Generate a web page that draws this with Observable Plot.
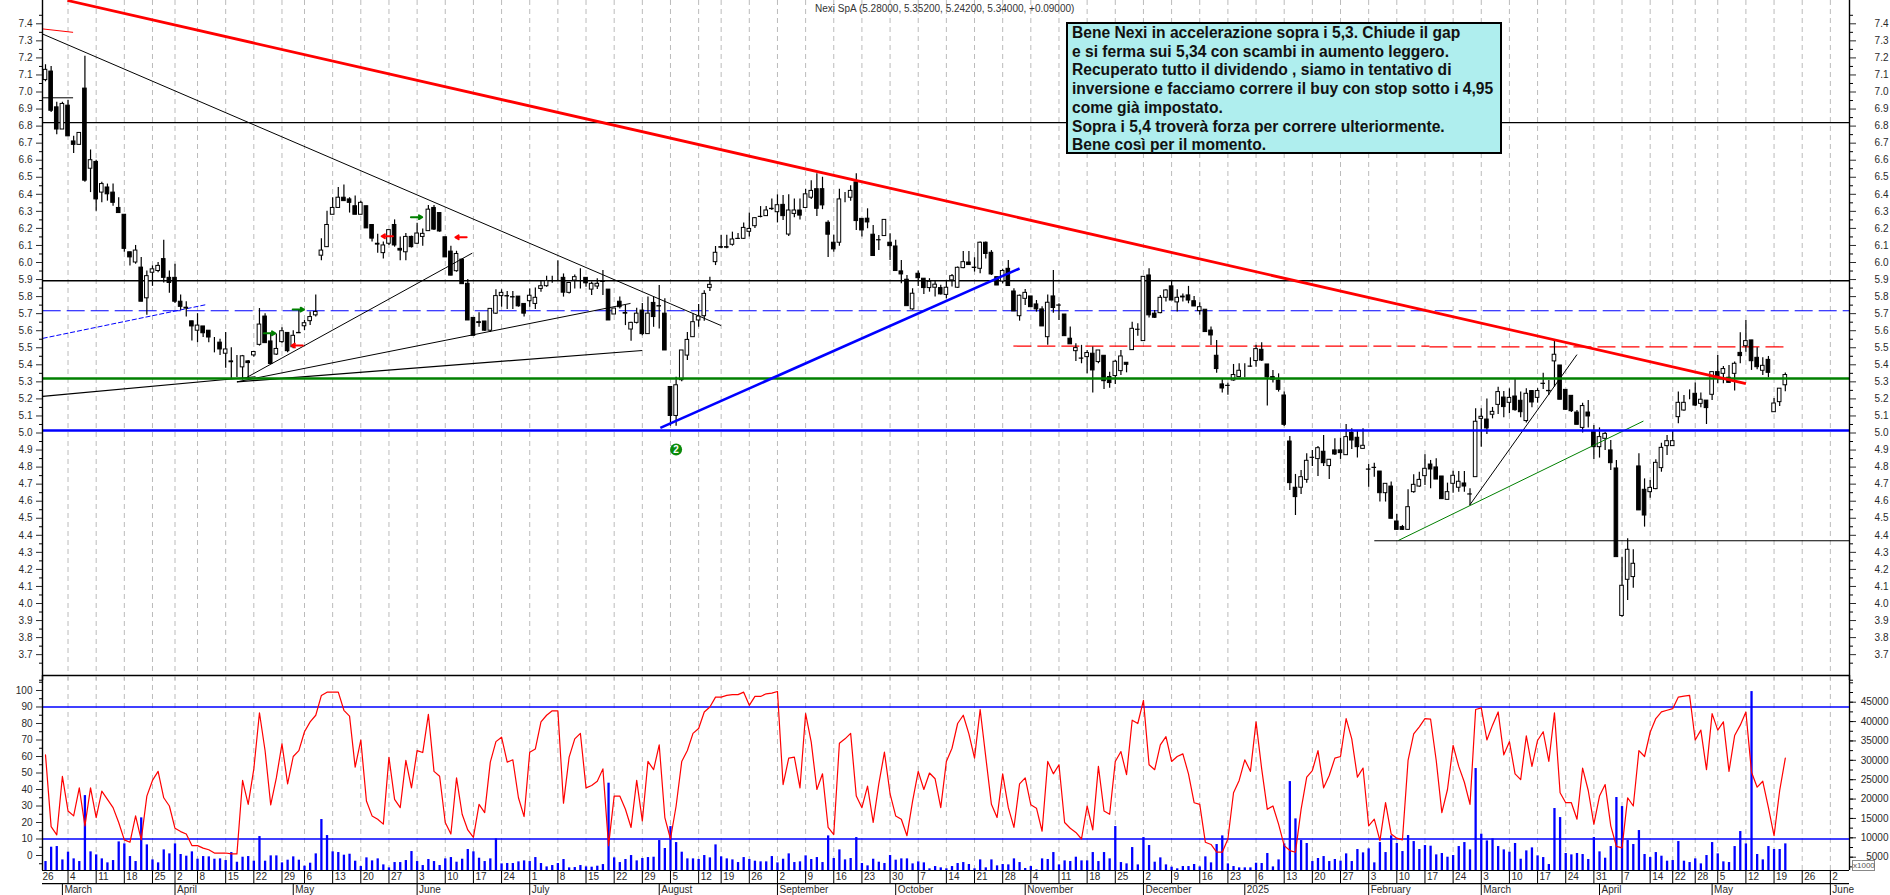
<!DOCTYPE html>
<html>
<head>
<meta charset="utf-8">
<script src="https://cdn.jsdelivr.net/npm/d3@7"></script>
<script src="https://cdn.jsdelivr.net/npm/@observablehq/plot@0.6"></script>
<style>
  html, body { margin: 0; padding: 0; background: white; overflow: hidden; }
  #chart { position: relative; width: 1890px; height: 895px; overflow: hidden; }
  #chart svg { position: absolute; left: 0; }
  #title { position: absolute; left: 815px; top: 3px; font: 10px "Liberation Sans"; color: #333; white-space: pre; }
  #note { position: absolute; left: 1066px; top: 22px; width: 436px; height: 132px; box-sizing: border-box;
    border: 2px solid black; background: #afeeee; padding: 0 0 0 4px;
    font: bold 15.6px/18.7px "Liberation Sans"; color: #111; white-space: pre; }
  #x1000 { position: absolute; left: 1852px; top: 860px; width: 21px; height: 9px; border: 1px solid #888;
    font: 8px/9px "Liberation Sans"; color: #555; text-align: center; background: white; }
</style>
</head>
<body>
<div id="chart"></div>
<script>
const opens = [
  7.07,7.12,6.91,6.78,6.92,6.71,6.69,7.02,6.55,6.59,
  6.41,6.44,6.41,6.32,6.28,6.06,6.0,5.97,5.79,5.94,
  5.95,6.02,5.91,5.91,5.77,5.735,5.655,5.6,5.625,5.6,
  5.51,5.53,5.465,5.42,5.395,5.385,5.42,5.455,5.517,5.683,
  5.537,5.46,5.533,5.587,5.503,5.587,5.626,5.656,5.69,6.04,
  6.09,6.28,6.32,6.38,6.37,6.33,6.28,6.33,6.22,6.11,
  6.055,6.11,6.22,6.08,6.06,6.15,6.11,6.15,6.184,6.32,
  6.29,6.148,6.064,5.949,6.017,5.875,5.675,5.65,5.654,5.6,
  5.7,5.803,5.803,5.797,5.8,5.757,5.773,5.757,5.845,5.861,
  5.895,5.9,5.91,5.822,5.894,5.93,5.91,5.841,5.859,5.888,
  5.841,5.695,5.77,5.704,5.607,5.646,5.718,5.58,5.763,5.744,
  5.7,5.27,5.1,5.31,5.454,5.562,5.66,5.685,5.851,6.002,
  6.09,6.09,6.104,6.139,6.139,6.18,6.213,6.268,6.272,6.315,
  6.295,6.338,6.164,6.285,6.305,6.32,6.38,6.43,6.43,6.233,
  6.116,6.116,6.36,6.38,6.47,6.256,6.257,6.163,6.131,6.155,
  6.116,6.094,5.948,5.899,5.725,5.934,5.905,5.85,5.852,5.85,
  5.81,5.895,5.852,5.967,6.0,5.97,5.963,6.116,6.057,5.914,
  5.889,5.963,5.83,5.685,5.787,5.801,5.754,5.725,5.562,5.801,
  5.748,5.695,5.553,5.48,5.437,5.445,5.465,5.416,5.453,5.328,
  5.334,5.363,5.412,5.486,5.606,5.539,5.924,5.7,5.703,5.793,
  5.86,5.766,5.8,5.807,5.773,5.715,5.723,5.601,5.453,5.285,
  5.277,5.308,5.328,5.394,5.39,5.422,5.488,5.402,5.328,5.308,
  5.22,4.95,4.679,4.679,4.725,4.855,4.847,4.89,4.806,4.898,
  4.898,4.87,5.0,4.972,4.907,4.786,4.796,4.774,4.647,4.686,
  4.481,4.448,4.432,4.653,4.686,4.747,4.815,4.798,4.745,4.608,
  4.702,4.679,4.704,4.64,4.741,5.083,5.079,5.107,5.165,5.208,
  5.177,5.214,5.189,5.07,5.246,5.206,5.289,5.247,5.42,5.396,
  5.253,5.218,5.12,5.03,5.12,5.005,4.917,4.966,4.898,4.792,
  3.927,4.139,4.155,4.804,4.667,4.653,4.671,4.794,4.923,4.923,
  5.093,5.132,5.21,5.23,5.171,5.19,5.224,5.357,5.347,5.324,
  5.347,5.47,5.509,5.543,5.441,5.365,5.429,5.122,5.181,5.28
]
const highs = [
  7.16,7.15,6.94,6.94,6.95,6.74,6.76,7.21,6.66,6.6,
  6.47,6.46,6.46,6.38,6.28,6.06,6.1,6.03,5.95,5.98,
  6.0,6.13,5.95,5.99,5.81,5.77,5.655,5.7,5.625,5.6,
  5.56,5.55,5.59,5.5,5.455,5.455,5.425,5.48,5.73,5.7,
  5.587,5.58,5.617,5.587,5.6,5.72,5.66,5.71,5.81,6.14,
  6.3,6.38,6.44,6.455,6.38,6.39,6.36,6.33,6.22,6.165,
  6.12,6.19,6.25,6.15,6.17,6.155,6.23,6.197,6.334,6.334,
  6.29,6.148,6.096,6.066,6.017,5.9,5.675,5.705,5.654,5.728,
  5.84,5.84,5.83,5.83,5.8,5.757,5.845,5.85,5.894,5.92,
  5.92,6.01,5.933,5.88,5.927,5.963,5.91,5.885,5.904,5.953,
  5.841,5.73,5.797,5.748,5.65,5.732,5.76,5.797,5.797,5.865,
  5.787,5.27,5.327,5.484,5.59,5.7,5.753,5.835,5.914,6.094,
  6.158,6.16,6.178,6.17,6.232,6.29,6.262,6.328,6.328,6.373,
  6.397,6.393,6.397,6.373,6.373,6.43,6.48,6.52,6.5,6.245,
  6.16,6.43,6.41,6.45,6.52,6.256,6.315,6.217,6.158,6.25,
  6.168,6.13,6.012,5.924,5.846,5.95,5.905,5.905,5.895,5.866,
  5.895,5.93,5.973,6.065,6.065,6.028,6.12,6.12,6.07,5.914,
  5.96,6.012,5.846,5.809,5.842,5.801,5.777,5.74,5.81,5.953,
  5.758,5.695,5.621,5.524,5.514,5.484,5.504,5.484,5.453,5.357,
  5.426,5.484,5.412,5.65,5.641,5.918,5.963,5.719,5.807,5.84,
  5.889,5.84,5.816,5.86,5.8,5.764,5.723,5.621,5.543,5.318,
  5.292,5.402,5.406,5.406,5.441,5.514,5.529,5.402,5.367,5.347,
  5.24,4.98,4.757,4.78,4.878,4.898,4.921,4.986,4.843,4.966,
  4.97,5.05,5.025,5.015,5.025,4.815,4.823,4.774,4.702,4.712,
  4.522,4.458,4.667,4.755,4.77,4.872,4.839,4.849,4.745,4.706,
  4.776,4.774,4.774,4.673,5.142,5.142,5.2,5.15,5.269,5.244,
  5.259,5.318,5.24,5.26,5.25,5.26,5.351,5.308,5.543,5.396,
  5.253,5.218,5.132,5.175,5.19,5.044,5.03,5.005,4.956,4.839,
  4.272,4.38,4.315,4.878,4.731,4.722,4.843,4.94,4.985,5.015,
  5.24,5.22,5.253,5.294,5.234,5.19,5.357,5.455,5.39,5.396,
  5.416,5.588,5.66,5.543,5.5,5.441,5.449,5.203,5.26,5.352
]
const lows = [
  7.06,6.88,6.75,6.78,6.74,6.64,6.69,6.47,6.41,6.3,
  6.35,6.36,6.33,6.29,6.06,5.98,5.99,5.77,5.69,5.86,
  5.94,5.88,5.82,5.76,5.72,5.68,5.54,5.53,5.56,5.53,
  5.47,5.455,5.38,5.32,5.325,5.31,5.32,5.445,5.51,5.527,
  5.405,5.455,5.527,5.47,5.494,5.585,5.6,5.63,5.68,6.01,
  6.09,6.28,6.32,6.36,6.29,6.28,6.28,6.2,6.12,6.055,
  6.02,6.10,6.09,6.01,6.01,6.085,6.105,6.095,6.184,6.187,
  6.178,6.03,5.923,5.943,5.873,5.66,5.57,5.62,5.597,5.59,
  5.695,5.738,5.724,5.724,5.738,5.68,5.738,5.724,5.826,5.855,
  5.878,5.894,5.797,5.816,5.845,5.845,5.855,5.806,5.841,5.806,
  5.66,5.695,5.728,5.63,5.538,5.64,5.57,5.58,5.62,5.61,
  5.484,5.04,5.04,5.30,5.425,5.562,5.62,5.656,5.83,5.982,
  6.08,6.08,6.096,6.135,6.135,6.15,6.2,6.262,6.27,6.305,
  6.232,6.246,6.152,6.262,6.25,6.32,6.37,6.27,6.31,6.03,
  6.06,6.096,6.35,6.36,6.188,6.149,6.198,6.038,6.07,6.155,
  6.012,5.95,5.875,5.744,5.72,5.86,5.813,5.826,5.797,5.81,
  5.787,5.856,5.848,5.963,5.985,5.944,5.934,6.02,5.924,5.865,
  5.875,5.86,5.713,5.656,5.748,5.738,5.709,5.625,5.514,5.703,
  5.66,5.568,5.52,5.42,5.406,5.347,5.234,5.406,5.255,5.263,
  5.285,5.338,5.353,5.484,5.568,5.539,5.674,5.672,5.699,5.768,
  5.777,5.709,5.768,5.758,5.742,5.69,5.592,5.513,5.351,5.234,
  5.222,5.304,5.324,5.324,5.386,5.386,5.42,5.158,5.294,5.24,
  5.038,4.663,4.516,4.64,4.706,4.804,4.745,4.804,4.727,4.868,
  4.845,4.87,4.903,4.853,4.907,4.682,4.741,4.595,4.595,4.497,
  4.428,4.428,4.428,4.647,4.682,4.692,4.673,4.727,4.612,4.608,
  4.647,4.653,4.653,4.575,4.741,4.917,4.991,5.083,5.109,5.089,
  5.113,5.128,5.089,5.058,5.148,5.175,5.255,5.22,5.269,5.195,
  5.132,5.12,5.048,5.0,5.03,4.845,4.853,4.898,4.78,4.272,
  3.92,4.018,4.09,4.546,4.448,4.618,4.667,4.77,4.868,4.923,
  5.054,5.128,5.195,5.156,5.148,5.05,5.19,5.289,5.289,5.294,
  5.246,5.406,5.474,5.367,5.371,5.337,5.324,5.122,5.156,5.242
]
const closes = [
  7.13,6.89,6.78,6.93,6.74,6.69,6.76,6.48,6.6,6.37,
  6.46,6.4,6.35,6.29,6.08,6.03,6.07,5.77,5.92,5.96,
  5.98,5.91,5.88,5.77,5.74,5.73,5.625,5.63,5.585,5.56,
  5.51,5.49,5.49,5.415,5.395,5.45,5.41,5.475,5.636,5.527,
  5.405,5.493,5.597,5.48,5.57,5.585,5.644,5.68,5.71,6.07,
  6.22,6.32,6.38,6.36,6.35,6.28,6.35,6.2,6.14,6.105,
  6.10,6.19,6.10,6.07,6.15,6.09,6.17,6.168,6.31,6.193,
  6.182,6.03,5.923,6.05,5.873,5.66,5.57,5.645,5.6,5.728,
  5.803,5.822,5.801,5.795,5.743,5.7,5.805,5.793,5.861,5.89,
  5.895,5.9,5.823,5.88,5.914,5.93,5.878,5.875,5.875,5.886,
  5.66,5.73,5.738,5.7,5.646,5.7,5.58,5.7,5.68,5.742,
  5.484,5.1,5.28,5.484,5.546,5.65,5.683,5.816,5.869,6.057,
  6.087,6.087,6.135,6.138,6.203,6.197,6.26,6.267,6.305,6.313,
  6.336,6.272,6.305,6.305,6.275,6.4,6.42,6.315,6.335,6.163,
  6.077,6.37,6.36,6.42,6.243,6.188,6.235,6.038,6.13,6.25,
  6.096,5.95,5.93,5.744,5.817,5.908,5.85,5.887,5.87,5.813,
  5.852,5.92,5.969,6.002,5.985,5.968,6.116,6.05,5.93,5.865,
  5.95,5.862,5.713,5.805,5.822,5.738,5.725,5.625,5.764,5.733,
  5.747,5.568,5.52,5.498,5.436,5.469,5.367,5.484,5.304,5.293,
  5.418,5.449,5.4,5.611,5.605,5.916,5.69,5.676,5.793,5.836,
  5.777,5.793,5.795,5.777,5.742,5.738,5.592,5.572,5.375,5.261,
  5.276,5.34,5.365,5.394,5.389,5.492,5.425,5.326,5.312,5.253,
  5.048,4.706,4.624,4.741,4.837,4.854,4.911,4.823,4.843,4.874,
  4.882,4.976,4.956,4.917,4.925,4.785,4.795,4.647,4.702,4.497,
  4.432,4.432,4.565,4.696,4.725,4.79,4.786,4.727,4.612,4.653,
  4.749,4.714,4.686,4.639,5.066,5.095,5.027,5.124,5.24,5.152,
  5.206,5.134,5.122,5.23,5.179,5.246,5.288,5.245,5.459,5.195,
  5.136,5.128,5.048,5.158,5.097,4.917,4.976,4.995,4.823,4.272,
  4.104,4.315,4.233,4.546,4.516,4.678,4.825,4.913,4.952,4.952,
  5.177,5.177,5.21,5.161,5.195,5.146,5.357,5.328,5.375,5.294,
  5.406,5.451,5.539,5.421,5.386,5.394,5.353,5.173,5.26,5.34
]
const oscillator = [
  61,17.5,12.5,48,27,24,41,18,41,23,
  39,34,29,20,9.5,8,24,9.5,36,45.5,
  51,35,30,16.5,14.5,13,6,6,4.5,3.5,
  1.5,1.5,1.5,1,1,45.5,31,52.5,86.5,63.5,
  30.7,47,67.7,43.4,60,63.6,75,81,85,97,
  99,99,99,88,84.5,53.5,70,33,24,22,
  19,59.5,34,29,57.6,41,63.6,62.4,85.5,51,
  48,20,13,47,25,15.5,11,31,26,56.6,
  69,71.7,56.6,58,35,23.6,62.6,64.6,81,85,
  87.7,87.7,31.7,59.6,70.7,74,41,42.4,45,52.5,
  6,36,36,28,17,45.5,21,57,52,67,
  23,10,30,57,63.6,74,77,87,90,96,
  96,97,97.5,97.5,99,91,96.4,96.4,98,98.4,
  99.4,43,59,59.6,41,86,68.7,40,49.5,17,
  12.7,68,70.7,74,36,29,42,20,43.4,62.6,
  37.4,24,22,12,33,51,40,50,46.5,29,
  57,65,80,85,73.7,59,88.5,59.6,31,23,
  49.5,29,17,43.4,47,30.7,28.7,14.7,57,49.5,
  55,20,16.5,14,10,30,15.5,54,27,25,
  57,63,49,82,80,94,55,52,67,72,
  57,60,61.6,49.5,32,31,8,6.7,2,2,
  10,38,45.5,58,51,81,52.5,28,30,19,
  6,3,2,28,47.5,51.5,63.6,41,48.5,59,
  60,83,70.7,47.5,53,18,22,9,32,13,
  10.5,9.5,57.6,73.7,78,83,82.6,57.6,26,40,
  66.7,54,44.4,31,88.5,89.5,70,79,87,61,
  69,49.5,46,72.5,54,69.7,75,57,86.5,38,
  32,32,22,53,39.4,19,36,43,18,5.5,
  4.6,35,30,63.6,60,74.7,83,87,88,89,
  96,96.6,97,70,76,52,86,76,81,51,
  72.7,79,87,50.5,41.4,45,29,12,39.4,59
]
const volumes = [
  3880,7580,7750,4300,6300,4570,3880,20900,6380,5600,
  4570,3540,4140,8950,8440,5170,3880,15150,8180,4300,
  3540,6890,5860,8440,5690,5260,6380,4480,5170,5090,
  4480,4570,4140,6200,3700,5000,5170,3970,10330,3970,
  5340,5340,3540,4230,5090,4230,2680,3450,5860,14720,
  10590,6380,6200,5520,5770,3970,2590,4830,4050,4570,
  3020,2250,3620,3620,4140,6460,3880,2850,4400,3880,
  2850,4570,4910,3710,4480,6980,6380,4740,3880,4570,
  9730,3280,3370,3370,3800,4050,3880,4910,3370,2500,
  2850,3370,4400,2250,2330,2850,2500,2420,2680,3100,
  24100,4830,3620,4400,5430,4050,4660,4910,5000,9300,
  7240,12900,8780,6290,4570,4570,4400,5430,4830,8180,
  5090,4570,4310,3620,4910,4400,3970,3800,3800,5170,
  3540,4480,5860,3620,3800,5340,4400,4910,3620,10500,
  4660,6890,4310,4660,10070,3370,2760,4480,3710,3370,
  5430,4230,4570,4570,3280,3800,3540,2000,2590,2250,
  2000,2590,3370,3620,3110,2000,4310,2250,4310,2760,
  3110,3020,4570,3620,2080,2590,1730,4570,4400,6200,
  3020,4050,3880,5000,4050,4050,6200,3880,6200,4570,
  12910,3620,3280,7490,3020,10070,8010,3710,4830,3020,
  2420,2000,2590,2590,3110,2500,5090,3540,8270,10500,
  3280,2590,2250,2250,2250,3450,3370,5950,2500,4310,
  8440,24520,14890,9300,8530,3880,4660,5170,3880,4400,
  3970,5860,3880,6980,6120,7150,3540,8780,6200,10500,
  8530,6460,10590,9040,6980,8010,7840,5600,5950,5000,
  5430,7750,8780,6890,27880,10930,9210,9730,7750,6890,
  6290,8530,4480,6630,7410,5340,4910,3110,17560,15230,
  5950,5600,5950,5690,4400,10070,6380,4740,7750,20400,
  18070,9300,8270,11880,5690,4910,6200,5260,3970,4140,
  9040,3970,3620,4570,3280,5430,8780,5860,3800,3620,
  7750,11620,8440,47740,5690,4310,7750,6980,6980,8440
]

// bar numbers of the first session of each week / month
const weekTicks = [4,9,14,19,23,27,32,37,42,46,51,56,61,66,71,76,81,86,91,96,101,106,111,116,120,125,130,135,140,145,150,155,160,165,170,175,180,185,190,195,200,205,210,215,220,225,230,235,240,245,250,255,260,265,270,275,280,285,289,293,297,302,307,312,317]
const weekLabels = [4,11,18,25,2,8,15,22,29,6,13,20,27,3,10,17,24,1,8,15,22,29,5,12,19,26,2,9,16,23,30,7,14,21,28,4,11,18,25,2,9,16,23,6,13,20,27,3,10,17,24,3,10,17,24,31,7,14,22,28,5,12,19,26,2]
const monthTicks = [3,23,44,66,86,109,130,151,174,195,213,235,255,276,296,317]
const monthLabels = ["March","April","May","June","July","August","September","October","November","December","2025","February","March","April","May","June"]

const hLines = [
  {y: 6.82, stroke: "black", width: 1.3},
  {y: 5.893, stroke: "black", width: 1.3}
]
const thinLines = [
  {x1: -0.5, y1: 7.34, x2: 120, y2: 5.63, stroke: "black", width: 1},
  {x1: -0.5, y1: 6.966, x2: 4.9, y2: 6.966, stroke: "black", width: 1},
  {x1: -0.5, y1: 7.37, x2: 4.9, y2: 7.35, stroke: "red", width: 1},
  {x1: -0.5, y1: 5.215, x2: 37.3, y2: 5.33, stroke: "black", width: 1.2},
  {x1: 35.8, y1: 5.327, x2: 75.8, y2: 6.055, stroke: "black", width: 1},
  {x1: 34, y1: 5.3, x2: 103.9, y2: 5.76, stroke: "black", width: 1},
  {x1: 34, y1: 5.3, x2: 106, y2: 5.484, stroke: "black", width: 1.2},
  {x1: 252.9, y1: 4.575, x2: 272, y2: 5.46, stroke: "black", width: 1},
  {x1: 240.3, y1: 4.37, x2: 283.8, y2: 5.07, stroke: "green", width: 1},
  {x1: 236, y1: 4.368, x2: 320.4, y2: 4.368, stroke: "black", width: 1}
]
const longDashLines = [
  {x1: -0.5, y1: 5.717, x2: 320.4, y2: 5.717, stroke: "#0000ff", width: 1.2},
  {x1: 171.9, y1: 5.51, x2: 245.8, y2: 5.51, stroke: "red", width: 1.2},
  {x1: 245.8, y1: 5.505, x2: 308.8, y2: 5.505, stroke: "red", width: 1.2}
]
const shortDashLines = [
  {x1: -0.5, y1: 5.555, x2: 28.7, y2: 5.754, stroke: "#0000ff", width: 1}
]
const thickLines = [
  {x1: -0.5, y1: 5.32, x2: 320.4, y2: 5.32, stroke: "green", width: 2.4},
  {x1: -0.5, y1: 5.015, x2: 320.4, y2: 5.015, stroke: "#0000ff", width: 2.4},
  {x1: 109.2, y1: 5.03, x2: 173, y2: 5.965, stroke: "#0000ff", width: 2.6},
  {x1: 3.9, y1: 7.5367, x2: 302, y2: 5.29, stroke: "red", width: 2.8}
]
const greenArrows = [{i: 65.9, v: 6.266}, {i: 39.8, v: 5.585}, {i: 44.9, v: 5.724}]
const redArrows = [{i: 73.8, v: 6.148}, {i: 44.7, v: 5.513}, {i: 60.7, v: 6.154}]
const badge = [{i: 112, v: 4.903, label: "2"}]

const bars = opens.map((o, i) => ({i, o, h: highs[i], l: lows[i], c: closes[i]}))
const oscPoints = oscillator.map((v, i) => ({i, v}))
const volBars = volumes.map((v, i) => ({i, v}))

const xDomain = [-0.533, 320.4]
const chartStyle = {fontFamily: "Liberation Sans", fontSize: "10px", background: "transparent", overflow: "visible"}
const textColor = "#2a2a2a"
const gridColor = "#bbbbbb"
const links = (data, extra = {}) => Plot.link(data, {
  x1: "x1", y1: "y1", x2: "x2", y2: "y2",
  stroke: "stroke", strokeWidth: "width", ...extra
})
const frameX = {domain: xDomain, axis: null}

// price panel
let pricePlot = Plot.plot({
  width: 1890, height: 680,
  marginLeft: 42, marginRight: 41, marginTop: 0, marginBottom: 0,
  style: chartStyle,
  x: frameX,
  y: {domain: [3.5484, 7.5367], label: null},
  marks: [
    Plot.ruleX(weekTicks, {stroke: gridColor, strokeDasharray: "5,4"}),
    links(longDashLines, {strokeDasharray: "18,6"}),
    links(shortDashLines, {strokeDasharray: "5,2"}),
    links(thinLines.slice(0, 3)),
    Plot.ruleY(hLines, {y: "y", stroke: "stroke", strokeWidth: "width"}),
    Plot.ruleX(bars, {x: "i", y1: "l", y2: "h", stroke: "black", strokeWidth: 1.2}),
    Plot.rect(bars, {
      x1: d => d.i - 0.32, x2: d => d.i + 0.32, y1: "o", y2: "c",
      fill: d => d.c >= d.o ? "white" : "black", stroke: "black", strokeWidth: 1
    }),
    links(thinLines.slice(3)),
    links(thickLines),
    Plot.arrow(greenArrows, {x1: d => d.i - 1, x2: d => d.i + 1, y1: "v", y2: "v", stroke: "green", strokeWidth: 2, headLength: 7}),
    Plot.arrow(redArrows, {x1: d => d.i + 1, x2: d => d.i - 1, y1: "v", y2: "v", stroke: "red", strokeWidth: 2, headLength: 7}),
    Plot.dot(badge, {x: "i", y: "v", r: 6, fill: "#0a8a0a"}),
    Plot.text(badge, {x: "i", y: "v", text: "label", fill: "white", fontWeight: "bold", fontSize: 10}),
    Plot.ruleY([3.5777], {stroke: "black", strokeWidth: 1.4}),
    Plot.ruleX([xDomain[0], xDomain[1]], {stroke: "black", strokeWidth: 1.4}),
    Plot.axisY(d3.range(37, 75).map(d => d / 10), {anchor: "left", tickSize: 6, tickPadding: 4, tickFormat: ".1f", color: textColor}),
    Plot.axisY(d3.range(71, 151, 2).map(d => d / 20), {anchor: "left", tickSize: 3, tickFormat: () => ""}),
    Plot.axisY(d3.range(37, 75).map(d => d / 10), {anchor: "right", tickSize: 6, tickPadding: 33, textAnchor: "end", tickFormat: ".1f", color: textColor}),
    Plot.axisY(d3.range(71, 151, 2).map(d => d / 20), {anchor: "right", tickSize: 3, tickFormat: () => ""})
  ]
})

// volume panel, with its own scale on the right
const volBase = 1568
let volumePlot = Plot.plot({
  width: 1890, height: 220,
  marginLeft: 42, marginRight: 41, marginTop: 0, marginBottom: 0,
  style: chartStyle,
  x: frameX,
  y: {domain: [-4884, 51890], label: null},
  marks: [
    Plot.ruleX(weekTicks, {y1: volBase, y2: 51890, stroke: gridColor, strokeDasharray: "5,4"}),
    Plot.ruleX(volBars, {x: "i", y1: volBase, y2: "v", stroke: "#0000ff", strokeWidth: 2.3}),
    Plot.ruleX([xDomain[1]], {y1: volBase, y2: 51890, stroke: "black", strokeWidth: 1.4}),
    Plot.axisY(d3.range(5000, 50000, 5000), {anchor: "right", tickSize: 6, tickPadding: 33, textAnchor: "end", color: textColor, tickFormat: d => String(d)}),
    Plot.axisY(d3.range(2500, 52500, 2500), {anchor: "right", tickSize: 3, tickFormat: () => ""})
  ]
})

// oscillator panel and date axis
let oscillatorPlot = Plot.plot({
  width: 1890, height: 220,
  marginLeft: 42, marginRight: 41, marginTop: 0, marginBottom: 0,
  style: chartStyle,
  x: frameX,
  y: {domain: [-24.24, 109.09], label: null},
  marks: [
    Plot.ruleY([90, 10], {stroke: "#0000ff", strokeWidth: 1.4}),
    Plot.line(oscPoints, {x: "i", y: "v", stroke: "red", strokeWidth: 1.2, curve: "linear"}),
    Plot.ruleX([xDomain[0]], {y1: -9.09, y2: 109.09, stroke: "black", strokeWidth: 1.4}),
    Plot.ruleY([-9.09, -17], {stroke: "black", strokeWidth: 1.2}),
    Plot.ruleX(weekTicks, {y1: -9.09, y2: -17, stroke: "black"}),
    Plot.ruleX(monthTicks, {y1: -17, y2: -24.24, stroke: "black"}),
    Plot.text(weekLabels, {x: (d, i) => weekTicks[i], y: -13, text: d => String(d), textAnchor: "start", dx: 2, fill: textColor}),
    Plot.text(["26"], {x: xDomain[0], y: -13, textAnchor: "start", dx: 0, fill: textColor}),
    Plot.text(monthLabels, {x: (d, i) => monthTicks[i], y: -21, text: d => d, textAnchor: "start", dx: 2, fill: textColor}),
    Plot.axisY(d3.range(0, 110, 10), {anchor: "left", tickSize: 6, tickPadding: 4, color: textColor}),
    Plot.axisY(d3.range(-5, 110, 10), {anchor: "left", tickSize: 3, tickFormat: () => ""})
  ]
})

const chart = d3.select("#chart")
pricePlot.style.top = "0px"
volumePlot.style.top = "675px"
oscillatorPlot.style.top = "675px"
chart.append(() => pricePlot)
chart.append(() => volumePlot)
chart.append(() => oscillatorPlot)
chart.append("div").attr("id", "title").text("Nexi SpA (5.28000, 5.35200, 5.24200, 5.34000, +0.09000)")
chart.append("div").attr("id", "note").text(
`Bene Nexi in accelerazione sopra i 5,3. Chiude il gap
e si ferma sui 5,34 con scambi in aumento leggero.
Recuperato tutto il dividendo , siamo in tentativo di
inversione e facciamo correre il buy con stop sotto i 4,95
come già impostato.
Sopra i 5,4 troverà forza per correre ulteriormente.
Bene così per il momento.`)
chart.append("div").attr("id", "x1000").text("x1000")
</script>
</body>
</html>
